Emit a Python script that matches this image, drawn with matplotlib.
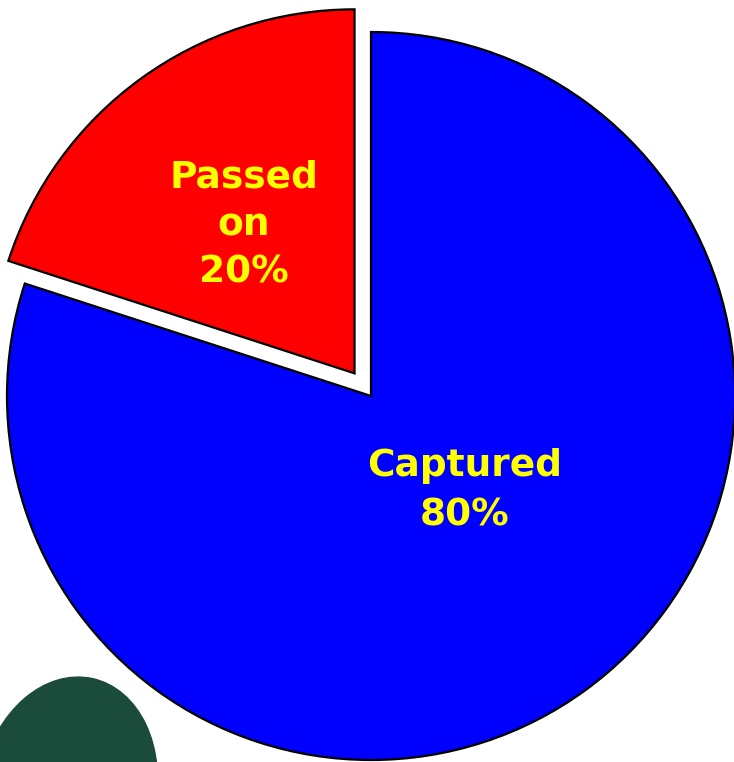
import matplotlib.pyplot as plt
from matplotlib.patches import Ellipse

# Данные
labels = ["Passed\non\n20%", "Captured\n80%"]
values = [20, 80]
colors = ["#ff0000", "#0000ff"]

W, H = 734, 762

fig = plt.figure(figsize=(W / 100, H / 100), dpi=100)
ax = fig.add_axes([0, 0, 1, 1])

cx, cy, r = 371, H - 396, 364
explode = [28, 0]  # в пикселях (pie не масштабирует explode по радиусу)

ax.pie(
    values,
    colors=colors,
    explode=explode,
    startangle=90,
    counterclock=True,
    center=(cx, cy),
    radius=r,
    wedgeprops=dict(edgecolor="black", linewidth=1.6),
    frame=True,
)
ax.set_xlim(0, W)
ax.set_ylim(0, H)
ax.set_aspect("equal")
ax.axis("off")

# подписи
text_pos = [(244, H - 225), (465, H - 491)]
line_sp = [1.42, 1.49]
for lab, (x, y), ls in zip(labels, text_pos, line_sp):
    ax.text(x, y, lab, ha="center", va="center", color="#ffff00",
            fontsize=27, fontweight="bold", family="DejaVu Sans",
            linespacing=ls)

# тёмно-зелёное пятно внизу слева
blob = Ellipse((68, H - 792), 176, 232, angle=-12, color="#1b4b3b", zorder=0)
ax.add_patch(blob)

fig.savefig("out.png", dpi=100)
